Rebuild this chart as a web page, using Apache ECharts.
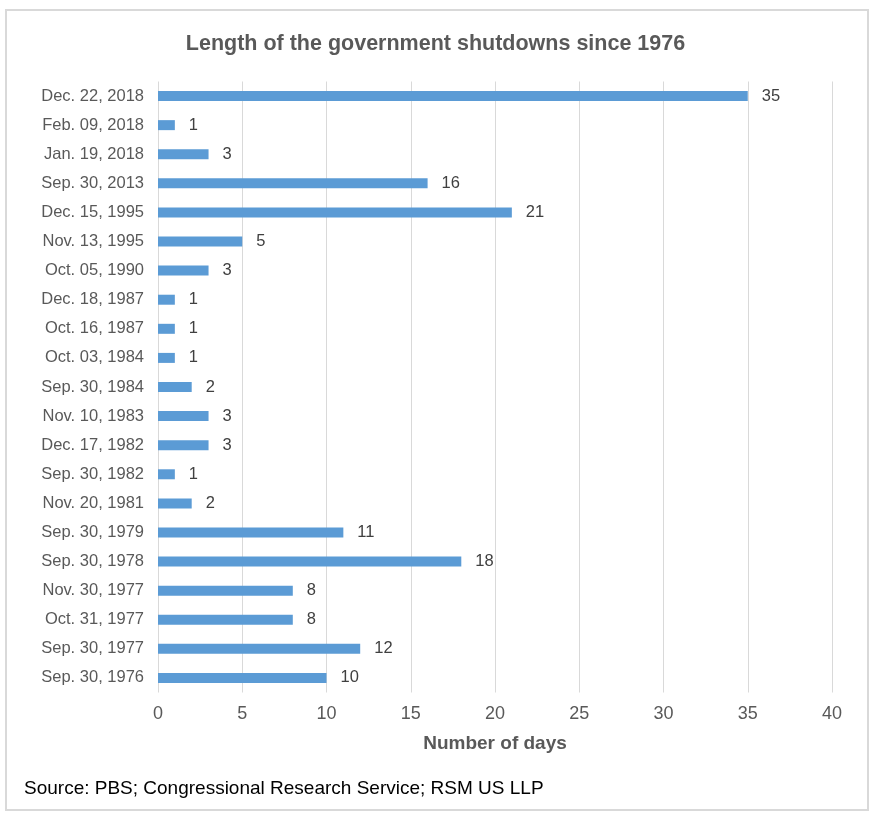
<!DOCTYPE html>
<html><head><meta charset="utf-8">
<script src="https://cdn.jsdelivr.net/npm/echarts@6/dist/echarts.min.js"></script>
<style>html,body{margin:0;padding:0;background:#fff}#c{width:871px;height:820px}</style>
</head><body><div id="c"></div>
<script>
const categories = ["Dec. 22, 2018","Feb. 09, 2018","Jan. 19, 2018","Sep. 30, 2013","Dec. 15, 1995","Nov. 13, 1995","Oct. 05, 1990","Dec. 18, 1987","Oct. 16, 1987","Oct. 03, 1984","Sep. 30, 1984","Nov. 10, 1983","Dec. 17, 1982","Sep. 30, 1982","Nov. 20, 1981","Sep. 30, 1979","Sep. 30, 1978","Nov. 30, 1977","Oct. 31, 1977","Sep. 30, 1977","Sep. 30, 1976"];
const days = [35,1,3,16,21,5,3,1,1,1,2,3,3,1,2,11,18,8,8,12,10];
const chart = echarts.init(document.getElementById('c'));
const font = '"Liberation Sans", Arial, sans-serif';
chart.setOption({
  animation:false,
  backgroundColor:'#fff',
  textStyle:{fontFamily:font},
  title:{text:'Length of the government shutdowns since 1976',left:'center',top:28,
    textStyle:{fontFamily:font,fontSize:21.5,fontWeight:'bold',color:'#595959'}},
  graphic:[
    {type:'rect',shape:{x:6,y:10,width:862,height:800},style:{fill:'none',stroke:'#d9d9d9',lineWidth:2}},
    {type:'text',left:24,top:779,style:{text:'Source: PBS; Congressional Research Service; RSM US LLP',font:'19px '+font,fill:'#000'}}
  ],
  grid:{left:158,right:39,top:81.5,bottom:127.5,containLabel:false},
  xAxis:{type:'value',min:0,max:40,interval:5,
    axisLine:{show:false},axisTick:{show:false},
    axisLabel:{fontSize:18,color:'#595959',margin:13,fontFamily:font},
    splitLine:{lineStyle:{color:'#d9d9d9',width:1}},
    name:'Number of days',nameLocation:'middle',nameGap:42,
    nameTextStyle:{fontSize:19,fontWeight:'bold',color:'#595959',fontFamily:font}},
  yAxis:{type:'category',data:categories,inverse:true,
    axisLine:{show:false},axisTick:{show:false},
    axisLabel:{fontSize:16.5,color:'#595959',margin:14,fontFamily:font}},
  series:[{type:'bar',data:days,barWidth:10,itemStyle:{color:'#5B9BD5'},
    label:{show:true,position:'right',distance:14,fontSize:16.5,color:'#404040',fontFamily:font}}]
});
</script></body></html>
